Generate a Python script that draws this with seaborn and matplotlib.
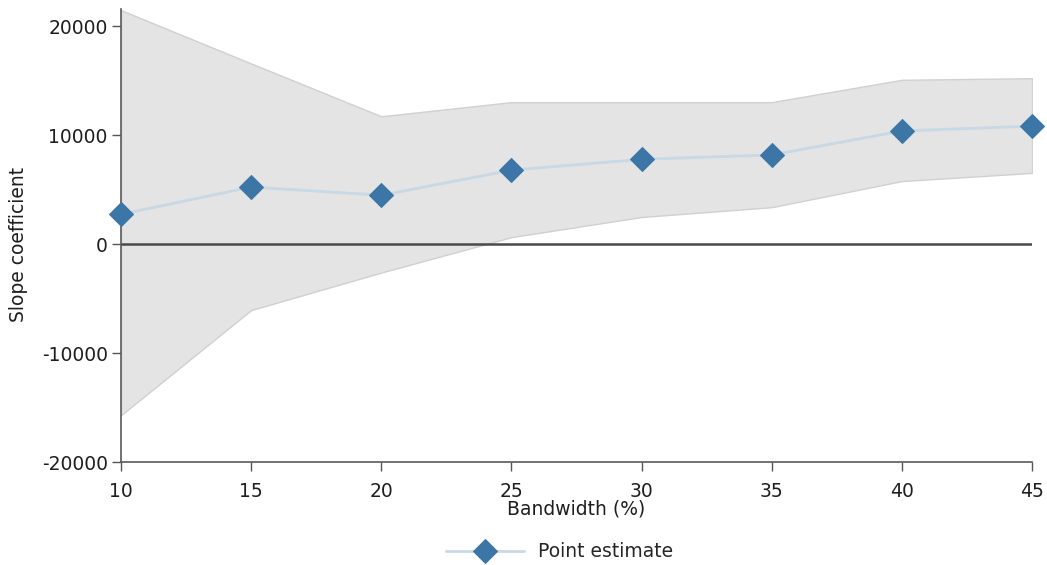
import numpy as np
import pandas as pd
import matplotlib
matplotlib.use("Agg")
import matplotlib.pyplot as plt
import seaborn as sns

# Slope coefficient by bandwidth, with confidence band
bandwidth = [10, 15, 20, 25, 30, 35, 40, 45]
estimate = [2750, 5250, 4500, 6800, 7800, 8200, 10400, 10850]
ci_upper = [21500, 16600, 11750, 13050, 13050, 13050, 15100, 15250]
ci_lower = [-15700, -6050, -2600, 650, 2500, 3400, 5800, 6550]

df = pd.DataFrame({"bandwidth": bandwidth, "estimate": estimate,
                   "lo": ci_lower, "hi": ci_upper})

sns.set_theme(style="white")
plt.rcParams["font.family"] = ["DejaVu Sans"]
plt.rcParams["axes.unicode_minus"] = False

FS = 13.5
TXT = "#1e1e1e"

fig = plt.figure(figsize=(10.47, 5.65), dpi=100)
ax = fig.add_axes([0.1156, 0.1823, 0.8701, 0.8017])

ax.fill_between(df["bandwidth"], df["lo"], df["hi"], facecolor="#e4e4e4",
                edgecolor="#d0d0d0", linewidth=1.0, zorder=1)
ax.axhline(0, color="#4a4a4a", linewidth=1.8, zorder=2)

sns.lineplot(data=df, x="bandwidth", y="estimate", ax=ax, color="#c9d8e5",
             linewidth=2.0, marker="D", markersize=12, markerfacecolor="#3b76a6",
             markeredgecolor="#3b76a6", label="Point estimate", zorder=3,
             clip_on=False)

ax.set_xlim(10, 45)
ax.set_ylim(-20000, 21600)
ax.set_xticks(bandwidth)
ax.set_yticks([-20000, -10000, 0, 10000, 20000])
ax.tick_params(axis="both", which="major", direction="out", length=6.5, width=1.0,
               color="#555555", labelsize=FS, labelcolor=TXT,
               bottom=True, left=True, pad=3)
ax.tick_params(axis="x", pad=8)

for side in ["top", "right"]:
    ax.spines[side].set_visible(False)
for side in ["left", "bottom"]:
    ax.spines[side].set_color("#5a5a5a")
    ax.spines[side].set_linewidth(1.2)

ax.set_xlabel("Bandwidth (%)", fontsize=FS, color=TXT, labelpad=-1)
ax.set_ylabel("Slope coefficient", fontsize=FS, color=TXT, va="center")
ax.yaxis.set_label_coords(-0.113, 0.48)

leg = ax.legend(loc="center", bbox_to_anchor=(0.481, -0.198), frameon=False,
                fontsize=FS, handlelength=4.2, handletextpad=0.7)

fig.savefig("out.png", dpi=100)
